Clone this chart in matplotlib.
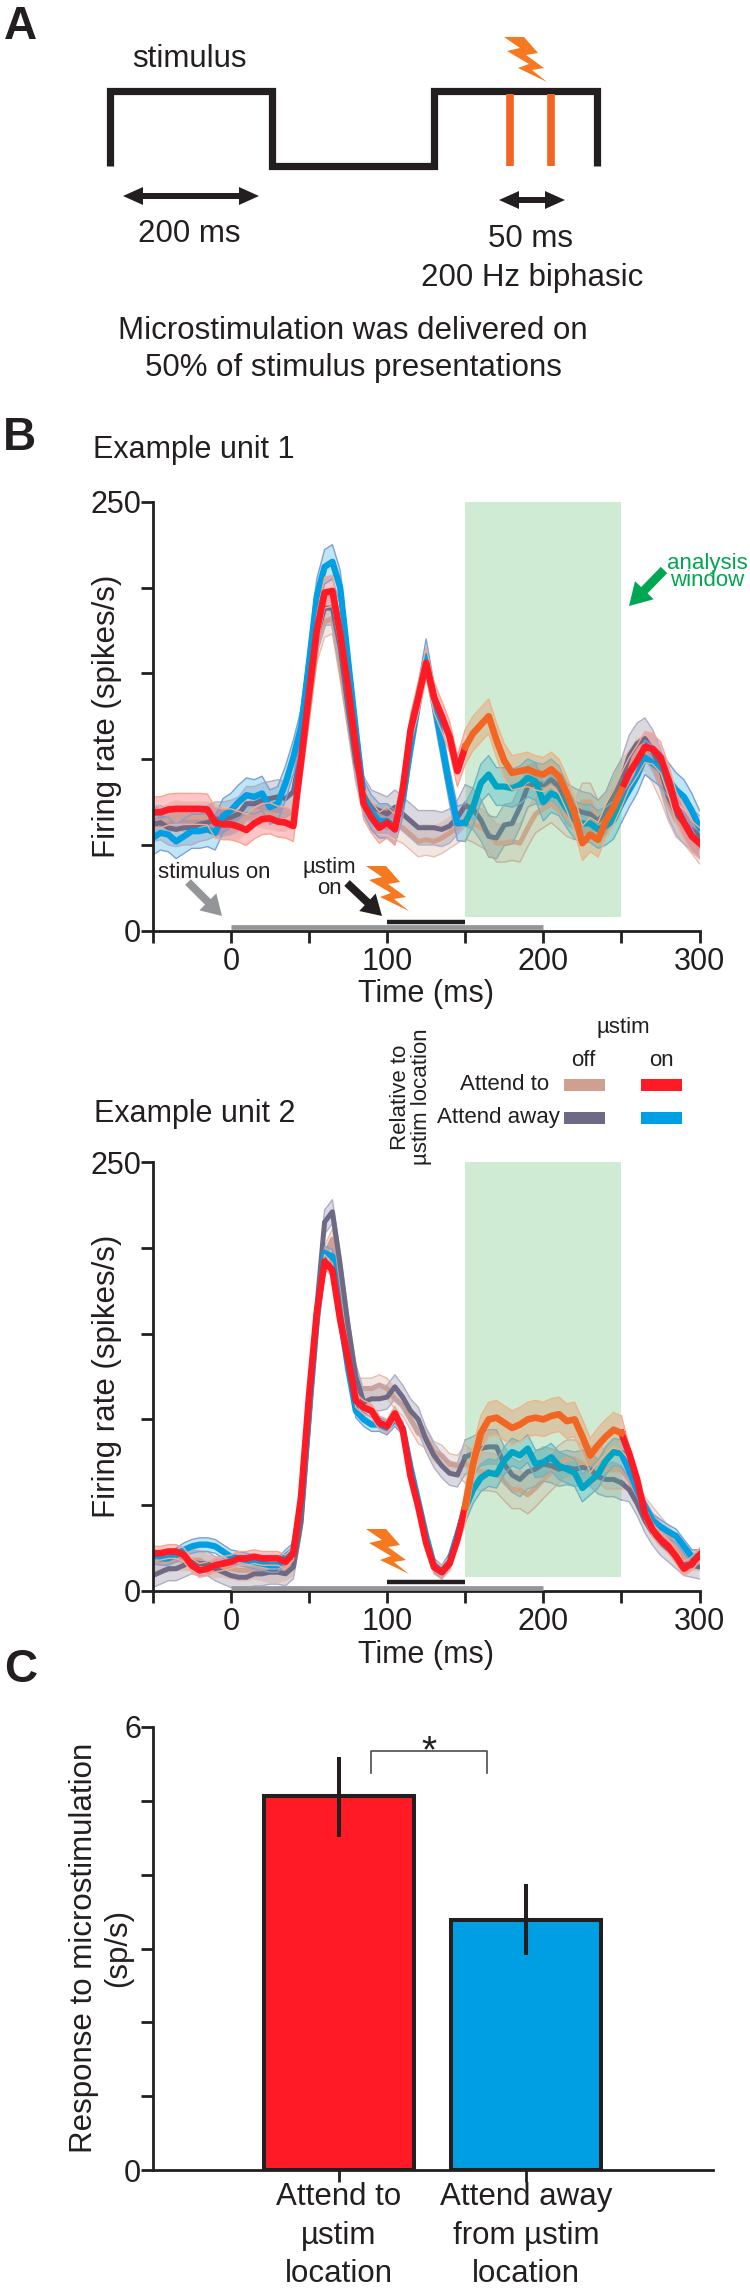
#!/usr/bin/env python3
import numpy as np
import matplotlib
matplotlib.use('Agg')
import matplotlib.pyplot as plt
from matplotlib.patches import FancyArrow, Polygon

plt.rcParams['font.family'] = ['Liberation Sans', 'DejaVu Sans']
plt.rcParams['text.color'] = '#231f20'
plt.rcParams['axes.labelcolor'] = '#231f20'

W, H = 750, 2290
INK = '#231f20'

# panel A
pulse_t = [0, 0, 200, 200, 400, 400, 600, 600]
pulse_level = [0, 1, 1, 0, 0, 1, 1, 0]
ustim_t = [493, 544]

# panel B, firing rates read every 5 ms
time = np.arange(-50, 305, 5)

u1_on_to = [69, 69, 70.6, 71, 71, 71, 71, 70.6, 63, 62, 62, 60.6, 58.7, 62.5, 65, 65.5, 63.6, 63, 61, 99.5,
            138, 175, 197, 198, 173, 142, 107, 74, 66, 60, 63, 59, 82, 117, 136, 156, 136, 125, 113, 93,
            107, 115, 120, 125, 111, 99, 92, 93, 94, 92, 91, 94, 90, 80, 68, 51, 56, 53, 64, 72,
            82, 92, 99, 107, 106, 101, 88, 72, 63, 55, 51]
u1_on_away = [54, 57, 56, 52, 55, 58, 58, 59, 57, 67, 70, 75, 79, 78, 80, 72, 74, 86, 101, 119,
              156, 195, 212, 215, 200, 158, 117, 78, 69, 64, 64, 60, 76, 107, 134, 160, 134, 109, 84, 62.5,
              63, 72, 86, 91, 84, 84, 83, 85, 89, 87, 75, 80, 78, 71, 64.5, 62.5, 62.5, 59, 61, 64.5,
              74, 82, 90, 101, 97.5, 94, 88, 82, 78, 70, 60]
u1_off_away = [62, 63, 60, 59, 60, 60, 62, 63, 65, 65, 66, 68, 74, 74, 76, 77, 78, 77, 81, 105,
               140, 172, 188, 188, 165, 130, 98, 80, 72, 70, 68, 72, 68, 64, 60, 60, 60, 59, 61, 66,
               73, 71, 64.5, 55, 54, 61.6, 62.5, 72, 84, 86, 85, 88, 84, 74, 71, 69, 68, 64, 69, 80,
               88, 102, 109, 112, 105, 94, 78, 68, 62.5, 59, 55]
u1_off_to = [65, 63, 65, 67, 66, 66, 66, 66, 65, 63, 62, 62, 66, 70, 69, 68, 67, 67, 70, 95,
             130, 165, 180, 182, 155, 125, 95, 75, 66, 65, 65, 62, 60, 56, 52, 53, 52, 54, 57, 60,
             64.5, 62.5, 60, 57, 51, 51, 52, 51, 60, 68, 71, 74, 70, 66, 64, 75, 75, 65, 68, 78,
             88, 95, 102, 103, 96, 86, 74, 64.5, 60.6, 55, 49]

u2_on_to = [22, 22, 23, 23, 21, 15, 12, 13, 15, 16, 17, 19, 19, 20, 19, 19, 19, 17, 22, 55,
            113, 162, 192, 187, 158, 135, 111, 107, 105, 98, 96, 103.5, 94, 67, 49, 28, 14, 11, 16, 30,
            49, 74, 92, 100, 101, 98, 95, 97, 100, 101, 100, 102, 103, 99, 100, 90, 79, 85, 90, 94,
            92, 80, 65, 45, 35.5, 30, 26, 20, 13, 16, 21]
u2_on_away = [20, 19, 19, 21, 24, 26, 27, 27, 26, 23, 20, 19, 18, 17, 16, 15, 15, 20, 24, 50,
              105, 158, 197, 195, 160, 130, 105, 100, 97, 97, 95, 100, 95, 72, 52, 32, 15, 11, 18, 33,
              48, 59, 66, 69, 68, 76, 81, 79, 83, 74, 75, 78, 73, 71, 69, 60, 64, 68, 76, 81,
              80, 70, 59, 49, 41, 37.5, 34.6, 32, 26, 20, 20]
u2_off_away = [9, 11, 13, 13, 15, 17, 16, 16, 13, 11, 9, 8, 8, 10, 10, 11, 11, 10, 14, 40,
               100, 165, 215, 221, 190, 155, 125, 110, 112, 112, 113, 119, 113, 105, 100, 88, 79, 73, 68.6, 67.6,
               78, 80, 83, 84, 84, 74, 67.6, 65, 69.5, 71, 74, 73, 71, 72, 71, 72, 71, 66.6, 65, 65,
               63, 59, 51, 41, 33.6, 27.8, 24, 20, 16, 15, 14]
u2_off_to = [17, 17, 17, 18, 18, 18, 18, 15, 14, 14, 13, 12, 12, 13, 12, 11, 11, 12, 15, 42,
             98, 155, 195, 205, 175, 140, 118, 118, 118, 120, 118, 112, 108, 100, 92, 89, 81, 79, 74, 73,
             74, 71, 69.5, 69.5, 68.6, 63.7, 59, 59, 56, 60, 65, 69.5, 74, 77, 77, 74, 73, 75, 70.5, 70.5,
             70.5, 65, 55, 49, 43, 37.5, 32, 26, 20, 18, 18]

# half width of the shaded bands: before, inside and after the window
u1_band = {'off_to': (9, 11, 10), 'off_away': (10, 12, 12), 'on_away': (10, 11, 10), 'on_to': (9, 10, 9)}
u2_band = {'off_to': (6, 11, 6), 'off_away': (7, 10, 7), 'on_away': (4, 8, 4), 'on_to': (4, 10, 4)}

window = (150, 250)
stim_bar = (0, 200)
ustim_bar = (100, 150)

# panel C
bar_labels = ['Attend to\nµstim\nlocation', 'Attend away\nfrom µstim\nlocation']
bar_values = [5.06, 3.385]
bar_low = [4.515, 2.91]
bar_high = [5.6, 3.875]

# line, band edge, line in window, band edge in window, widths
styles = {
    'off_to': ('#cf9f8f', '#e8bfb0', '#c9a98c', '#c8b39a', 3.6, 1.0),
    'off_away': ('#6e6a85', '#b0aec8', '#64808c', '#8fb0ae', 3.6, 1.0),
    'on_away': ('#009fe3', '#7f9fd3', '#00a5c6', '#6fb2c2', 4.5, 1.0),
    'on_to': ('#ff1a25', '#f9a68c', '#f26522', '#efb285', 4.8, 1.0),
}


def px_axes(x0, y0, x1, y1):
    # axes from pixel box, y measured from the top
    return fig.add_axes([x0 / W, 1 - y1 / H, (x1 - x0) / W, (y1 - y0) / H])


def draw_trace(ax, name, values, half):
    col, edge, wcol, wedge, lw, elw = styles[name]
    t = time
    v = np.array(values, dtype=float)
    hw = np.where(t < window[0], half[0], np.where(t <= window[1], half[1], half[2]))
    inside = (t >= window[0]) & (t <= window[1])
    outside = (t <= window[0]) | (t >= window[1])
    for mask, c, e in [(outside, col, edge), (inside, wcol, wedge)]:
        vm = np.ma.masked_where(~mask, v)
        hm = np.ma.masked_where(~mask, hw)
        ax.fill_between(t, v - hw, v + hw, where=mask, color=c, alpha=0.25, lw=0)
        ax.plot(t, vm - hm, color=e, lw=elw)
        ax.plot(t, vm + hm, color=e, lw=elw)
        ax.plot(t, vm, color=c, lw=lw, solid_joinstyle='round')


def draw_unit(box, on_to, on_away, off_to, off_away, band):
    ax = px_axes(*box)
    ax.axvspan(window[0], window[1], ymin=8 / 250, ymax=1, color='#cfebd4', lw=0, zorder=0)
    draw_trace(ax, 'off_to', off_to, band['off_to'])
    draw_trace(ax, 'off_away', off_away, band['off_away'])
    draw_trace(ax, 'on_away', on_away, band['on_away'])
    draw_trace(ax, 'on_to', on_to, band['on_to'])
    ax.plot(stim_bar, [2, 2], color='#939598', lw=3.4, solid_capstyle='butt', zorder=5, clip_on=False)
    ax.plot(ustim_bar, [5.2, 5.2], color=INK, lw=3.2, solid_capstyle='butt', zorder=5)
    ax.set_xlim(-50, 300)
    ax.set_ylim(0, 250)
    ax.set_xticks(np.arange(-50, 350, 50))
    ax.set_xticklabels(['', '0', '', '100', '', '200', '', '300'])
    ax.set_yticks(np.arange(0, 300, 50))
    ax.set_yticklabels(['0', '', '', '', '', '250'])
    ax.set_xlabel('Time (ms)', fontsize=22, labelpad=2)
    ax.set_ylabel('Firing rate (spikes/s)', fontsize=22.5, labelpad=-23)
    style_axes(ax)
    return ax


def style_axes(ax):
    ax.patch.set_alpha(0)
    ax.spines['top'].set_visible(False)
    ax.spines['right'].set_visible(False)
    ax.spines['left'].set_linewidth(2.0)
    ax.spines['bottom'].set_linewidth(2.0)
    ax.spines['left'].set_color(INK)
    ax.spines['bottom'].set_color(INK)
    ax.tick_params(axis='both', length=8.5, width=2.0, color=INK, labelsize=22, labelcolor=INK)
    ax.tick_params(axis='y', pad=0)
    ax.tick_params(axis='x', pad=3)


def bolt(dx, dy):
    pts = np.array([(366, 866), (386, 866), (400, 882), (388, 884), (406, 897), (394, 899),
                    (409, 911), (380, 897), (391, 893), (369, 880), (382, 877)], dtype=float)
    over.add_patch(Polygon(pts + (dx, dy), closed=True, color='#f47920', lw=0))


def arrow(x0, y0, x1, y1, color, width=7, head_w=22, head_l=20):
    over.add_patch(FancyArrow(x0, y0, x1 - x0, y1 - y0, width=width, head_width=head_w,
                              head_length=head_l, length_includes_head=True, color=color, lw=0))


def double_arrow(x0, x1, y):
    mid = (x0 + x1) / 2
    arrow(mid, y, x0, y, INK, width=6, head_w=18, head_l=20)
    arrow(mid, y, x1, y, INK, width=6, head_w=18, head_l=20)


fig = plt.figure(figsize=(W / 100, H / 100), dpi=100)

# panel A
ax_a = px_axes(110, 90.7, 596.6, 165.7)
ax_a.plot(pulse_t, pulse_level, color=INK, lw=5.2, solid_joinstyle='miter', solid_capstyle='butt', clip_on=False)
ax_a.vlines(ustim_t, -0.04, 0.96, color='#f26522', lw=5.5)
ax_a.set_xlim(0, 600)
ax_a.set_ylim(0, 1)
ax_a.axis('off')

# panel B
draw_unit((152.7, 501.7, 699.6, 930.7), u1_on_to, u1_on_away, u1_off_to, u1_off_away, u1_band)
draw_unit((152.7, 1162, 699.6, 1591), u2_on_to, u2_on_away, u2_off_to, u2_off_away, u2_band)

# panel C
ax_c = px_axes(153, 1727, 713, 2170)
ax_c.bar([0, 1], bar_values, width=0.8, color=['#ff1a25', '#009fe3'], edgecolor=INK, linewidth=2.9)
ax_c.vlines([0, 1], bar_low, bar_high, color=INK, lw=2.9, zorder=5)
ax_c.set_xlim(-0.995, 2.0)
ax_c.set_ylim(0, 6)
ax_c.set_xticks([0, 1])
ax_c.set_xticklabels(bar_labels, linespacing=1.38)
ax_c.set_yticks(np.arange(0, 7))
ax_c.set_yticklabels(['0', '', '', '', '', '', '6'])
style_axes(ax_c)
ax_c.tick_params(axis='x', labelsize=22.5, length=8.5, pad=0)

# overlay in pixels for the annotations
over = fig.add_axes([0, 0, 1, 1], zorder=20)
over.set_xlim(0, W)
over.set_ylim(H, 0)
over.axis('off')


def label(x, y, s, size=22, ha='center', **kw):
    over.text(x, y, s, fontsize=size, ha=ha, va='center', **kw)


label(4, 27, 'A', size=33, ha='left', fontweight='bold')
label(3, 438, 'B', size=33, ha='left', fontweight='bold')
label(4, 1670, 'C', size=33, ha='left', fontweight='bold')

label(189, 59, 'stimulus', size=22.5)
label(189, 234, '200 ms', size=22.5)
label(530, 239, '50 ms', size=22.5)
label(532, 278, '200 Hz biphasic', size=22.5)
label(353, 331, 'Microstimulation was delivered on', size=22.5)
label(353, 368, '50% of stimulus presentations', size=22.5)
label(93, 450, 'Example unit 1', ha='left')
label(94, 1114, 'Example unit 2', ha='left')
double_arrow(123, 259, 196)
double_arrow(499, 565, 200)
bolt(138, -829)
bolt(0, 0)
bolt(0, 663)

label(214, 872, 'stimulus on', size=16)
label(329, 868, 'µstim', size=16)
label(329, 888, 'on', size=16)
arrow(188, 882, 222, 916, '#939598', width=8, head_w=24, head_l=20)
arrow(347, 883, 382, 916, INK, width=8, head_w=24, head_l=20)
label(707, 563, 'analysis', size=16, color='#00a651')
label(707, 581, 'window', size=16, color='#00a651')
arrow(664, 570, 629, 606, '#00a651', width=9, head_w=26, head_l=22)

# legend of panel B
label(623, 1028, 'µstim', size=16)
label(583, 1060, 'off', size=16)
label(661, 1060, 'on', size=16)
label(549, 1084, 'Attend to', size=16, ha='right')
label(560, 1118, 'Attend away', size=16, ha='right')
label(400, 1097, 'Relative to', size=16, rotation=90)
label(422, 1097, 'µstim location', size=16, rotation=90)
for x0, y0, c in [(564, 1079, '#cf9f8f'), (641, 1079, '#ff1a25'), (564, 1112, '#6e6a85'), (641, 1112, '#009fe3')]:
    over.fill_between([x0, x0 + 41], y0, y0 + 11.5, color=c, lw=0)

# significance bracket and y label of panel C
over.plot([371, 371, 487, 487], [1773, 1751, 1751, 1773], color='#4d4d4f', lw=1.2)
label(429, 1752, '*', size=28)
label(84, 1948, 'Response to microstimulation', size=22.5, rotation=90)
label(118, 1948, '(sp/s)', size=22.5, rotation=90)

fig.savefig('out.png', dpi=100)
